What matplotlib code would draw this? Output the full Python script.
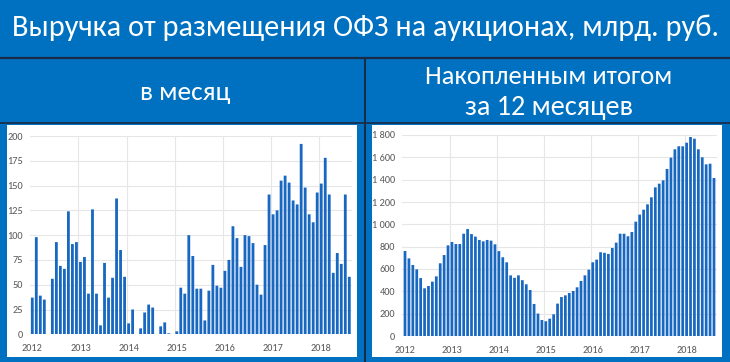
import matplotlib
matplotlib.use("Agg")
import matplotlib.pyplot as plt
from matplotlib.patches import Rectangle
from matplotlib.lines import Line2D
from matplotlib import font_manager
from matplotlib.ticker import FuncFormatter
import numpy as np

# ---------------- data ----------------
years = ["2012", "2013", "2014", "2015", "2016", "2017", "2018"]

monthly = [
    37, 98, 39, 35, 0, 56, 93, 69, 66, 124, 91, 93,          # 2012
    73, 78, 41, 126, 41, 9, 72, 37, 57, 137, 85, 58,         # 2013
    11, 25, 0, 6, 22, 30, 27, 0, 8, 12, 1, 0,                # 2014
    3, 47, 41, 100, 79, 46, 46, 14, 44, 70, 49, 47,          # 2015
    64, 75, 109, 97, 68, 100, 99, 92, 50, 40, 90, 141,       # 2016
    121, 125, 155, 160, 153, 135, 131, 192, 148, 121, 113, 143,  # 2017
    152, 178, 141, 62, 82, 71, 141, 58,                      # 2018
]

rolling12 = [
    761, 695, 636, 597, 519, 427, 448, 487, 534, 651, 725, 812,
    842, 824, 824, 916, 958, 913, 890, 860, 848, 860, 854, 821,
    760, 705, 660, 543, 521, 543, 500, 463, 412, 287, 201, 143,
    132, 155, 194, 290, 349, 364, 385, 403, 436, 493, 543, 594,
    660, 684, 750, 745, 735, 788, 836, 916, 916, 893, 931, 1024,
    1087, 1131, 1179, 1242, 1331, 1364, 1394, 1496, 1597, 1672, 1699, 1699,
    1731, 1782, 1767, 1672, 1600, 1537, 1543, 1415,
]

title = "Выручка от размещения ОФЗ на аукционах, млрд. руб."
head_left = "в месяц"
head_right_1 = "Накопленным итогом"
head_right_2 = "за 12 месяцев"

# ---------------- style ----------------
W, H = 730, 362
BG = "#0070C0"
BAR = "#1868C2"
DARK = "#1B2A45"
GRID = "#E6E6E6"
TICK = "#595959"

avail = {f.name for f in font_manager.fontManager.ttflist}
FONT = "Roboto"
for cand in ["Carlito", "Roboto", "Open Sans", "Noto Sans"]:
    if cand in avail:
        FONT = cand
        break
plt.rcParams["font.family"] = [FONT, "DejaVu Sans"]

fig = plt.figure(figsize=(W / 100, H / 100), dpi=100)
fig.patch.set_facecolor(BG)


def rect(x0, y0, x1, y1):
    return [x0 / W, 1 - y1 / H, (x1 - x0) / W, (y1 - y0) / H]


def fx(x):
    return x / W


def fy(y):
    return 1 - y / H


# white panels
for (x0, y0, x1, y1) in [(7, 125, 357, 357), (372, 125, 722, 357)]:
    fig.patches.append(Rectangle((fx(x0), fy(y1)), fx(x1) - fx(x0), fy(y0) - fy(y1),
                                 transform=fig.transFigure, facecolor="white",
                                 edgecolor="none", zorder=-5))

# dark separator lines
fig.lines.append(Line2D([0, 1], [fy(57.5), fy(57.5)], transform=fig.transFigure,
                        color=DARK, lw=1.6, zorder=-4))
fig.lines.append(Line2D([0, 1], [fy(123.5), fy(123.5)], transform=fig.transFigure,
                        color=DARK, lw=1.2, zorder=-4))
fig.lines.append(Line2D([fx(365), fx(365)], [fy(57.5), 0], transform=fig.transFigure,
                        color=DARK, lw=1.4, zorder=-4))

renderer = fig.canvas.get_renderer()


def fitted_text(x, y, s, target_w, base=20):
    t = fig.text(fx(x), fy(y), s, ha="center", va="center", color="white", fontsize=base)
    w = t.get_window_extent(renderer).width
    t.set_fontsize(base * target_w / w)
    return t


fitted_text(365, 28, title, 706)
fitted_text(185, 93, head_left, 90)
fitted_text(549, 76, head_right_1, 246)
fitted_text(549, 108, head_right_2, 168)

n = len(monthly)
x = np.arange(n)
tick_pos = [12 * i for i in range(len(years))]


def style_axes(ax, ymax, step, fmt=None):
    ax.set_facecolor("none")
    for s in ax.spines.values():
        s.set_visible(False)
    ax.set_ylim(0, ymax)
    ax.set_yticks(np.arange(0, ymax + 1, step))
    ax.yaxis.grid(True, color=GRID, lw=0.8)
    ax.set_axisbelow(True)
    for p in tick_pos[1:]:
        ax.axvline(p - 0.5, color=GRID, lw=0.8, zorder=0)
    ax.set_xticks(tick_pos)
    ax.set_xticklabels(years)
    ax.tick_params(axis="both", length=0, labelsize=7.4, labelcolor=TICK)
    ax.tick_params(axis="x", pad=7)
    ax.tick_params(axis="y", pad=5)
    if fmt is not None:
        ax.yaxis.set_major_formatter(fmt)


ax1 = fig.add_axes(rect(30, 136, 352, 334.3))
ax1.set_zorder(2)
ax1.bar(x, monthly, width=0.7, color=BAR, zorder=2, snap=False)
ax1.set_xlim(-0.57, 79.67)
style_axes(ax1, 200, 25)

ax2 = fig.add_axes(rect(402, 135, 717, 336))
ax2.set_zorder(2)
ax2.bar(x, rolling12, width=0.7, color=BAR, zorder=2, snap=False)
ax2.set_xlim(-0.77, 79.77)
style_axes(ax2, 1800, 200,
           FuncFormatter(lambda v, p: f"{int(v):,}".replace(",", " ")))

fig.savefig("out.png", dpi=100, facecolor=BG)
